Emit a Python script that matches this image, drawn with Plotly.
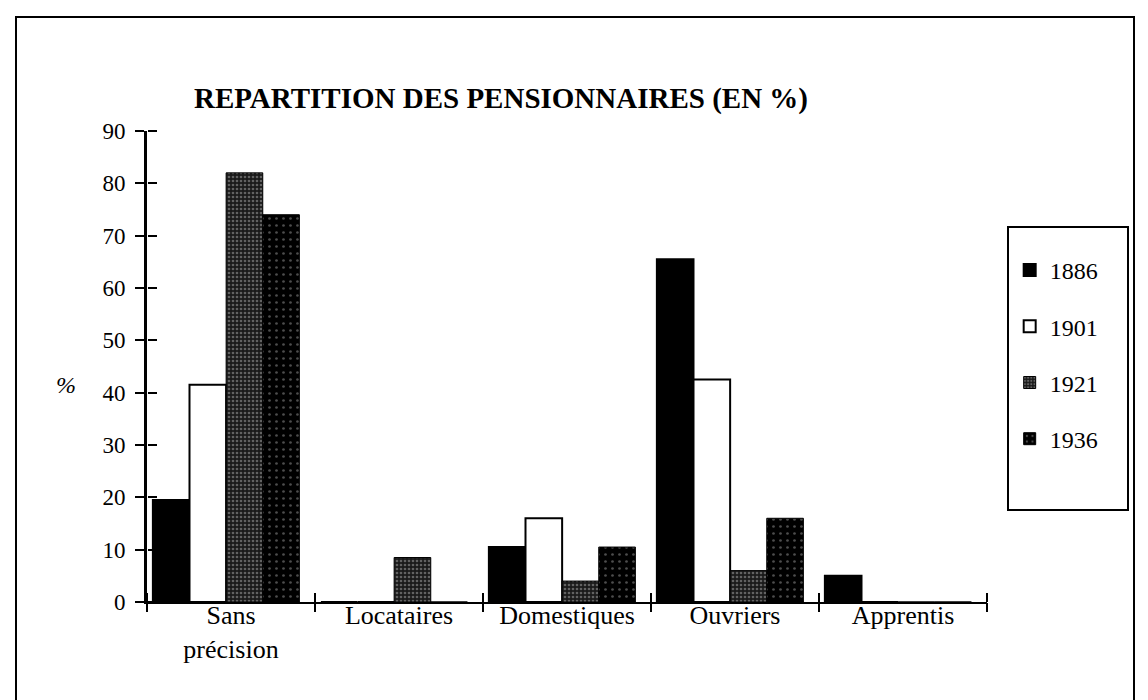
import plotly.graph_objects as go

categories = ["Sans<br>précision", "Locataires", "Domestiques", "Ouvriers", "Apprentis"]
years = ["1886", "1901", "1921", "1936"]
v1886 = [19.5, 0, 10.5, 65.5, 5]
v1901 = [41.5, 0, 16, 42.5, 0]
v1921 = [82, 8.5, 4, 6, 0]
v1936 = [74, 0, 10.5, 16, 0]
yticks = [0, 10, 20, 30, 40, 50, 60, 70, 80, 90]

series = [v1886, v1901, v1921, v1936]
styles = [
    dict(color="black", line=dict(color="black", width=2)),
    dict(color="white", line=dict(color="black", width=2)),
    dict(color="#1a1a1a", line=dict(color="black", width=1),
         pattern=dict(shape=".", fgcolor="#aaaaaa", bgcolor="#1a1a1a", size=4, solidity=0.35, fillmode="overlay")),
    dict(color="black", line=dict(color="black", width=1),
         pattern=dict(shape=".", fgcolor="#999999", bgcolor="black", size=7, solidity=0.12, fillmode="overlay")),
]

FONT = "Liberation Serif, Times New Roman, serif"
W, H = 1148, 700
L, R, T, B = 139, 169, 123, 106
PW, PH = W - L - R, H - T - B
BAR_W = 0.218
GROUP_START = -0.465


def px(xf):
    return (xf - L) / PW


def py(yf):
    return (H - B - yf) / PH


fig = go.Figure()
for i, (name, vals, st) in enumerate(zip(years, series, styles)):
    fig.add_trace(go.Bar(x=categories, y=vals, name=name, marker=st, legendgroup=name,
                         width=BAR_W, offset=GROUP_START + i * BAR_W))
# invisible helper traces so the overlay axes (crossing tick marks) get the same categories
zeros = [0] * len(categories)
fig.add_trace(go.Bar(x=categories, y=zeros, xaxis="x2", yaxis="y2", showlegend=False,
                     marker=dict(color="rgba(0,0,0,0)", line=dict(width=0)), hoverinfo="skip"))
fig.add_trace(go.Bar(x=categories, y=zeros, xaxis="x3", yaxis="y3", showlegend=False,
                     marker=dict(color="rgba(0,0,0,0)", line=dict(width=0)), hoverinfo="skip"))

tickstyle = dict(ticklen=9, tickwidth=2, tickcolor="black", showgrid=False, showline=False,
                 showticklabels=False)
fig.update_layout(
    width=W, height=H,
    margin=dict(l=L, r=R, t=T, b=B),
    paper_bgcolor="white", plot_bgcolor="white",
    font=dict(family=FONT, size=24, color="black"),
    barmode="group", bargap=0.12, bargroupgap=0,
    title=dict(text="<b>REPARTITION DES PENSIONNAIRES (EN %)</b>", x=493 / W, xref="container",
               y=1 - 90 / H, yanchor="middle", xanchor="center",
               font=dict(family=FONT, size=29, color="black")),
    showlegend=True,
    legend=dict(x=1.027, y=py(240), xanchor="left", yanchor="top", tracegroupgap=22,
                font=dict(family=FONT, size=24), bgcolor="rgba(0,0,0,0)", itemwidth=30),
    xaxis=dict(showline=True, linecolor="black", linewidth=2, ticks="", ticklen=0, showgrid=False,
               ticklabelstandoff=-11, tickfont=dict(family=FONT, size=26)),
    yaxis=dict(range=[0, 90], tickvals=yticks, showline=True, linecolor="black", linewidth=3,
               ticks="outside", ticklen=9, tickwidth=2, tickcolor="black", showgrid=False, zeroline=False,
               ticklabelstandoff=5, tickfont=dict(family=FONT, size=23)),
    xaxis2=dict(overlaying="x", side="bottom", anchor="free", position=0, ticks="outside",
                tickson="boundaries", type="category", **tickstyle),
    xaxis3=dict(overlaying="x", side="top", anchor="free", position=0, ticks="outside",
                tickson="boundaries", type="category", **tickstyle),
    yaxis2=dict(overlaying="y", range=[0, 90], tickvals=yticks, side="right", anchor="free", position=0,
                ticks="outside", zeroline=False, **tickstyle),
    yaxis3=dict(overlaying="y", range=[0, 90], visible=False),
)
fig.add_annotation(text="<i>%</i>", xref="paper", yref="paper", x=px(46), y=py(377), showarrow=False,
                   font=dict(family=FONT, size=24))
# legend frame
fig.add_shape(type="rect", xref="paper", yref="paper", x0=px(1000), x1=px(1120),
              y0=py(502), y1=py(219), line=dict(color="black", width=2))
# outer frame
fig.add_shape(type="rect", xref="paper", yref="paper", x0=px(8), x1=px(1126),
              y0=py(740), y1=py(9), line=dict(color="black", width=2))
fig.write_html("out.html")
